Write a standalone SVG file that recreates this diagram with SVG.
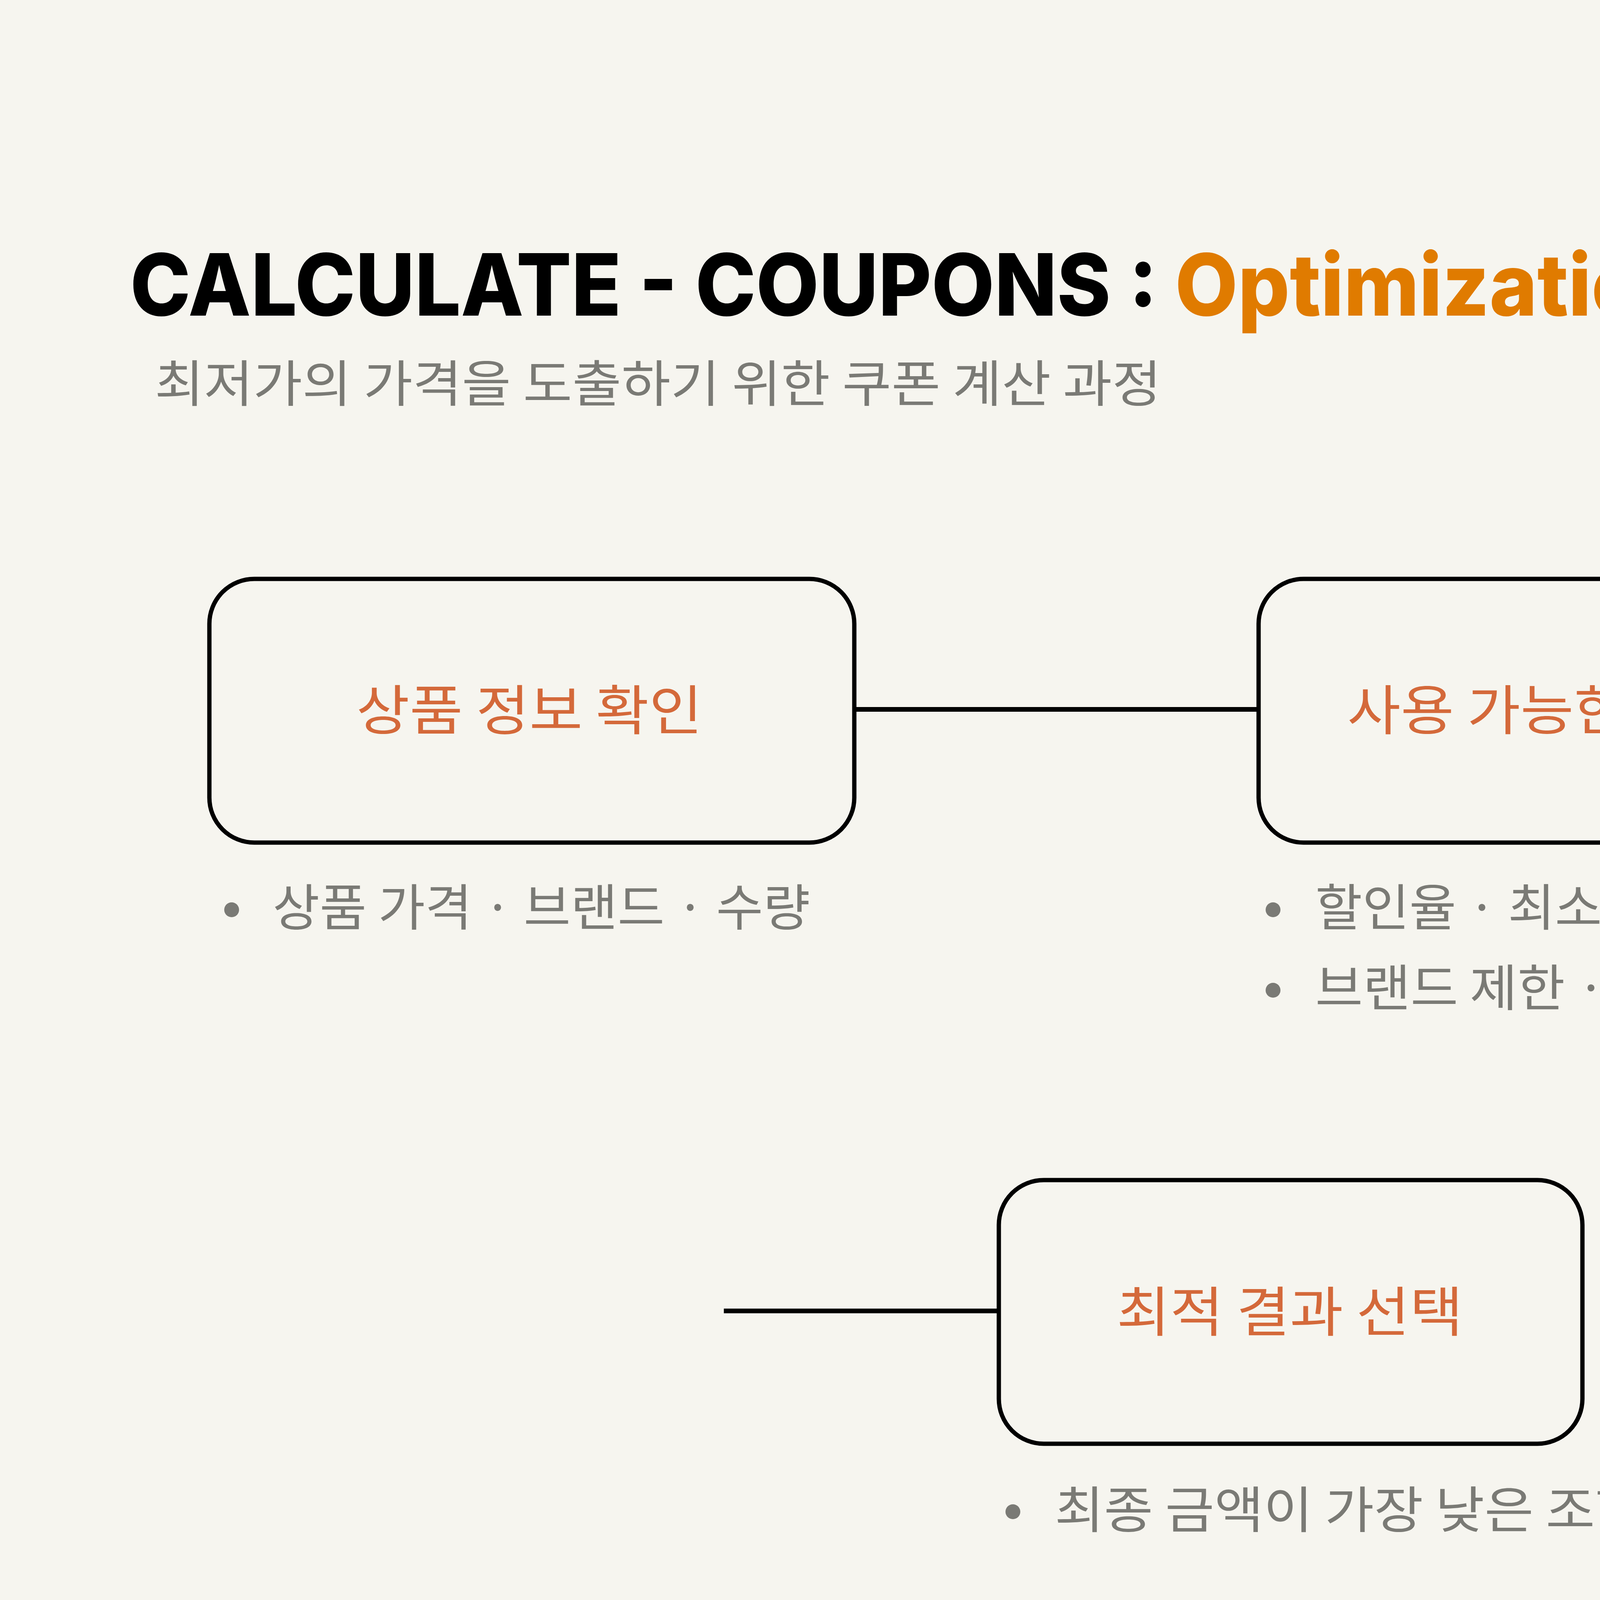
<svg xmlns="http://www.w3.org/2000/svg" width="8000" height="4500" viewBox="0 0 8000 4500">
<defs>
<style>
.bg{fill:#F6F5EF}
.box{fill:none;stroke:#000;stroke-width:11}
.conn{stroke:#000;stroke-width:12;fill:none}
.title{font-family:Inter,"Noto Sans",sans-serif;font-weight:800;font-size:220px}
.sub{font-family:"Noto Sans CJK KR",sans-serif;font-size:128px;fill:#7A7A75}
.lbl{font-family:"Noto Sans CJK KR",sans-serif;font-size:138px;fill:#D4693A;text-anchor:middle}
.bul{font-family:"Noto Sans CJK KR",sans-serif;font-size:128px;fill:#7A7A75}
.dot{fill:#7A7A75}
.note{font-family:"Noto Sans CJK KR",sans-serif;font-size:128px;fill:#E07B00}
.lat{font-family:Inter,"Noto Sans",sans-serif}
.pg{font-family:Inter,"Noto Sans",sans-serif;font-size:130px;fill:#000}
</style>
</defs>
<rect class="bg" x="0" y="0" width="8000" height="4500"/>
<text class="pg" x="7690" y="268">03</text>
<text class="title" x="333" y="808" textLength="2630" lengthAdjust="spacingAndGlyphs" fill="#000">CALCULATE - COUPONS :</text>
<text class="title" x="3008" y="808" textLength="1935" lengthAdjust="spacingAndGlyphs" fill="#E07B00">Optimization Logic</text>
<text class="sub" x="396" y="1029" textLength="2577" lengthAdjust="spacingAndGlyphs">최저가의 가격을 도출하기 위한 쿠폰 계산 과정</text>

<g id="connectors">
<line class="conn" x1="2189" y1="1816" x2="3220" y2="1816"/>
<line class="conn" x1="5013" y1="1816" x2="6021" y2="1816"/>
<line class="conn" x1="1853" y1="3356" x2="2555" y2="3356"/>
</g>

<g id="node1">
<rect class="box" x="536" y="1482" width="1651" height="675" rx="115" ry="115"/>
<text class="lbl" x="1355" y="1868" textLength="886" lengthAdjust="spacingAndGlyphs">상품 정보 확인</text>
<circle class="dot" cx="593" cy="2329" r="19"/>
<text class="bul" x="698" y="2370" textLength="1376" lengthAdjust="spacingAndGlyphs">상품 가격 · 브랜드 · 수량</text>
</g>

<g id="node2">
<rect class="box" x="3222" y="1482" width="1789" height="675" rx="115" ry="115"/>
<text class="lbl" x="4114" y="1868" textLength="1330" lengthAdjust="spacingAndGlyphs">사용 가능한 쿠폰 선별</text>
<circle class="dot" cx="3259" cy="2329" r="19"/>
<text class="bul" x="3367" y="2370" textLength="1647" lengthAdjust="spacingAndGlyphs">할인율 · 최소 금액 · 최대 할인</text>
<circle class="dot" cx="3259" cy="2535" r="19"/>
<text class="bul" x="3367" y="2576" textLength="2064" lengthAdjust="spacingAndGlyphs">브랜드 제한 · 중복 여부 · 재사용 여부</text>
</g>

<g id="node3">
<rect class="box" x="6024" y="1482" width="1636" height="675" rx="115" ry="115"/>
<text class="lbl" x="6843" y="1868" textLength="1194" lengthAdjust="spacingAndGlyphs">모든 결제 경우 비교</text>
<circle class="dot" cx="6122" cy="2329" r="19"/>
<text class="bul" x="6228" y="2370" textLength="1343" lengthAdjust="spacingAndGlyphs">쿠폰 조합 <tspan class="lat">×</tspan> 적용 순서 <tspan class="lat">×</tspan></text>
<text class="bul" x="6228" y="2574" textLength="1218" lengthAdjust="spacingAndGlyphs">적용 상품 <tspan class="lat">×</tspan> 분할 결제</text>
</g>

<g id="node4">
<rect class="box" x="2557" y="3021" width="1494" height="675" rx="115" ry="115"/>
<text class="lbl" x="3302" y="3408" textLength="887" lengthAdjust="spacingAndGlyphs">최적 결과 선택</text>
<circle class="dot" cx="2593" cy="3870" r="19"/>
<text class="bul" x="2700" y="3912" textLength="1509" lengthAdjust="spacingAndGlyphs">최종 금액이 가장 낮은 조합</text>
</g>

<g id="note">
<text class="note" x="5078" y="3203" textLength="1410" lengthAdjust="spacingAndGlyphs">** 동일한 금액이라면? **</text>
<text class="note" x="5085" y="3466" textLength="1355" lengthAdjust="spacingAndGlyphs"><tspan class="lat">→</tspan> 결제 횟수가 적은 조합</text>
<text class="note" x="5085" y="3735" textLength="1515" lengthAdjust="spacingAndGlyphs"><tspan class="lat">→</tspan> 사용 쿠폰 수가 적은 조합</text>
</g>
</svg>
